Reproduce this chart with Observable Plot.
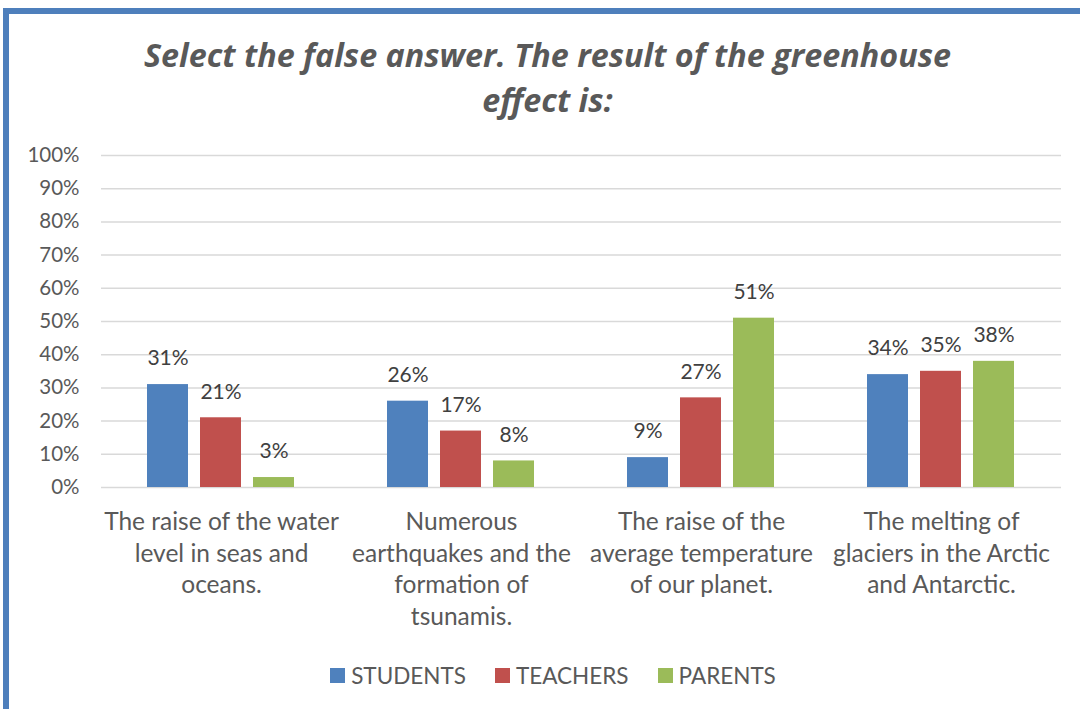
<!DOCTYPE html>
<html>
<head>
<meta charset="utf-8">
<script src="https://cdn.jsdelivr.net/npm/d3@7"></script>
<script src="https://cdn.jsdelivr.net/npm/@observablehq/plot@0.6"></script>
<style>
  html, body { margin:0; padding:0; background:#fff; width:1080px; height:709px; overflow:hidden; font-family: Lato, "Open Sans", sans-serif; }
  #frame { position:absolute; left:3px; top:8px; width:1200px; height:800px; border-left:6px solid #4e7fbc; border-top:6px solid #4e7fbc; box-sizing:border-box; }
  #title { position:absolute; left:0; width:1095px; top:32px; text-align:center; font-family:"Open Sans", Lato, sans-serif; font-weight:bold; font-style:italic; font-size:32.3px; line-height:45px; color:#595959; }
  #chart { position:absolute; left:0; top:130px; }
  #legend { position:absolute; left:0; width:1106px; top:662px; display:flex; justify-content:center; gap:29px; font-size:22.5px; color:#595959; }
  #legend .item { display:flex; align-items:center; gap:6px; }
  #legend .sw { width:15px; height:15px; display:inline-block; }
</style>
</head>
<body>
<div id="frame"></div>
<div id="title">Select the false answer. The result of the greenhouse<br>effect is:</div>
<div id="chart"></div>
<div id="legend"></div>
<script>
const categories = [
  "The raise of the water level in seas and oceans.",
  "Numerous earthquakes and the formation of tsunamis.",
  "The raise of the average temperature of our planet.",
  "The melting of glaciers in the Arctic and Antarctic."
];
const categoryLines = [
  "The raise of the water\nlevel in seas and\noceans.",
  "Numerous\nearthquakes and the\nformation of\ntsunamis.",
  "The raise of the\naverage temperature\nof our planet.",
  "The melting of\nglaciers in the Arctic\nand Antarctic."
];
const series = ["STUDENTS", "TEACHERS", "PARENTS"];
const colors = ["#4f81bd", "#c0504d", "#9bbb59"];
const students = [31, 26, 9, 34];
const teachers = [21, 17, 27, 35];
const parents = [3, 8, 51, 38];
const yTicks = [0, 10, 20, 30, 40, 50, 60, 70, 80, 90, 100];

const values = [students, teachers, parents];
const data = [];
categories.forEach((c, i) => series.forEach((s, j) => data.push({category: c, series: s, value: values[j][i]})));
const labelOf = new Map(categories.map((c, i) => [c, categoryLines[i]]));

const chart = Plot.plot({
  width: 1080, height: 520,
  marginLeft: 100, marginRight: 19, marginTop: 25, marginBottom: 163,
  style: {fontFamily: "Lato, 'Open Sans', sans-serif", color: "#595959", background: "transparent"},
  fx: {domain: categories, padding: 0, label: null},
  x: {domain: series, paddingInner: 0.226, paddingOuter: 0.877, axis: null},
  y: {domain: [0, 100], label: null},
  color: {domain: series, range: colors},
  marks: [
    Plot.ruleY(yTicks, {stroke: "#d9d9d9", strokeWidth: 1.5, strokeOpacity: 1}),
    Plot.barY(data, {fx: "category", x: "series", y: "value", fill: "series"}),
    Plot.text(data, {fx: "category", x: "series", y: "value", text: d => d.value + "%", dy: -26, fontSize: 21, fill: "#404040"}),
    Plot.axisY(yTicks, {tickSize: 0, tickPadding: 22, fontSize: 20.5, tickFormat: d => d + "%", label: null}),
    Plot.axisFx({anchor: "bottom", tickSize: 0, tickPadding: 20, fontSize: 24.5, lineHeight: 1.29, tickFormat: d => labelOf.get(d), label: null})
  ]
});
document.getElementById("chart").appendChild(chart);

const legend = document.getElementById("legend");
series.forEach((s, i) => {
  const item = document.createElement("div");
  item.className = "item";
  const sw = document.createElement("span");
  sw.className = "sw";
  sw.style.background = colors[i];
  const t = document.createElement("span");
  t.textContent = s;
  item.appendChild(sw); item.appendChild(t);
  legend.appendChild(item);
});
</script>
</body>
</html>
